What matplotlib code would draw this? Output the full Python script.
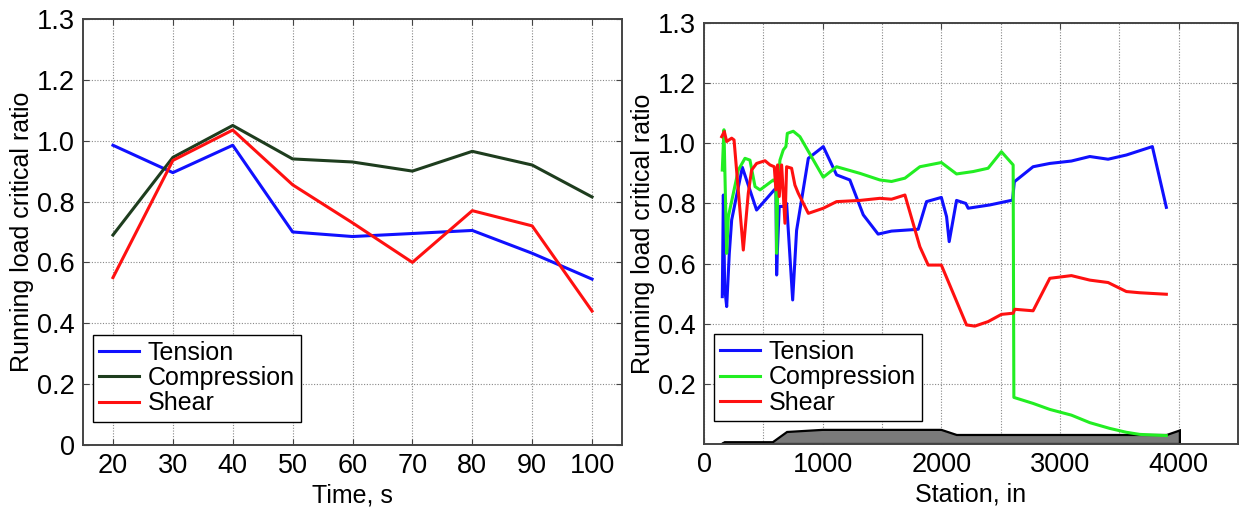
import numpy as np
import matplotlib.pyplot as plt
from matplotlib.ticker import MultipleLocator

plt.rcParams['font.family'] = ['Liberation Sans Narrow', 'Liberation Sans', 'DejaVu Sans']

# left panel: ratio vs time
time_s = [20, 30, 40, 50, 60, 70, 80, 90, 100]
tension_t = [0.985, 0.895, 0.985, 0.70, 0.685, 0.695, 0.705, 0.63, 0.545]
compression_t = [0.69, 0.945, 1.05, 0.94, 0.93, 0.90, 0.965, 0.92, 0.815]
shear_t = [0.55, 0.935, 1.035, 0.855, 0.73, 0.60, 0.77, 0.72, 0.44]

# right panel: ratio vs station
tension_stn = [154, 163, 174, 191, 213, 233, 323, 443, 592, 606, 612, 618, 634, 668, 696,
               747, 780, 879, 1005, 1117, 1229, 1342, 1467, 1580, 1805, 1875, 2000, 2044,
               2066, 2128, 2206, 2226, 2409, 2600, 2615, 2773, 2914, 3096, 3251, 3405,
               3559, 3778, 3896]
tension_s = [0.49, 0.828, 0.52, 0.457, 0.634, 0.745, 0.92, 0.778, 0.845, 0.85, 0.562, 0.64,
             0.79, 0.79, 0.80, 0.479, 0.71, 0.95, 0.989, 0.895, 0.878, 0.762, 0.698, 0.708,
             0.714, 0.806, 0.82, 0.756, 0.673, 0.81, 0.80, 0.784, 0.795, 0.811, 0.872,
             0.922, 0.933, 0.941, 0.956, 0.947, 0.961, 0.989, 0.787]

compression_stn = [154, 163, 168, 191, 205, 289, 345, 387, 430, 472, 584, 606, 612, 621,
                   640, 668, 690, 702, 752, 808, 1005, 1117, 1314, 1482, 1580, 1693, 1819,
                   2000, 2128, 2268, 2394, 2506, 2605, 2611, 2773, 2914, 3096, 3251, 3418,
                   3559, 3671, 3896]
compression_s = [0.911, 1.0, 1.045, 0.634, 0.756, 0.911, 0.95, 0.944, 0.856, 0.845, 0.878,
                 0.87, 0.634, 0.856, 0.944, 0.978, 0.989, 1.033, 1.04, 1.022, 0.887, 0.922,
                 0.90, 0.878, 0.873, 0.884, 0.922, 0.936, 0.898, 0.906, 0.917, 0.972, 0.928,
                 0.155, 0.135, 0.115, 0.096, 0.071, 0.052, 0.039, 0.032, 0.028]

shear_stn = [149, 171, 191, 233, 253, 331, 373, 401, 443, 514, 556, 592, 606, 620, 634, 654,
             682, 696, 738, 766, 794, 879, 1005, 1117, 1314, 1482, 1580, 1693, 1819, 1889,
             2000, 2212, 2282, 2394, 2506, 2605, 2619, 2773, 2914, 3096, 3251, 3405, 3559,
             3671, 3896]
shear_s = [1.022, 1.039, 1.006, 1.017, 1.011, 0.645, 0.834, 0.911, 0.933, 0.942, 0.928,
           0.922, 0.845, 0.928, 0.823, 0.928, 0.734, 0.922, 0.917, 0.861, 0.834, 0.767,
           0.784, 0.806, 0.81, 0.817, 0.814, 0.828, 0.656, 0.595, 0.595, 0.396, 0.392,
           0.407, 0.431, 0.435, 0.448, 0.443, 0.551, 0.56, 0.545, 0.537, 0.507, 0.503, 0.498]

# outline at the bottom of the station plot
outline_stn = [150, 175, 580, 700, 1000, 2000, 2130, 3900, 4010, 4010]
outline_h = [0.0, 0.006, 0.006, 0.04, 0.047, 0.047, 0.03, 0.03, 0.045, 0.0]

ytick_vals = [0, 0.2, 0.4, 0.6, 0.8, 1.0, 1.2, 1.4]
ytick_labels = ['0', '0.2', '0.4', '0.6', '0.8', '1.0', '1.2', '1.3']

fs = 18
tfs = 19.5
fig = plt.figure(figsize=(12.41, 5.11), dpi=100)
ax1 = fig.add_axes([0.0669, 0.1292, 0.4343, 0.8337])
ax2 = fig.add_axes([0.5673, 0.1311, 0.4303, 0.8239])


def style(ax):
    ax.grid(True, which='both', linestyle=(0, (1, 1.5)), color='#888888', linewidth=0.8)
    ax.tick_params(which='both', direction='in', top=True, right=True, length=4,
                   labelsize=tfs, color='#444444', pad=6)
    ax.tick_params(which='minor', length=0)
    for sp in ax.spines.values():
        sp.set_color('#444444')
        sp.set_linewidth(1.4)
    ax.set_ylim(0, 1.4)
    ax.set_ylabel('Running load critical ratio', fontsize=fs, labelpad=2)


lw = 2.2
ax1.plot(time_s, tension_t, color='#1010ff', lw=lw, label='Tension')
ax1.plot(time_s, compression_t, color='#1e3d1e', lw=lw, label='Compression')
ax1.plot(time_s, shear_t, color='#ff1010', lw=lw, label='Shear')
style(ax1)
ax1.set_xlim(15, 105)
ax1.set_xticks(time_s)
ax1.set_yticks(ytick_vals, ytick_labels)
ax1.set_xlabel('Time, s', fontsize=fs, labelpad=3)

ax2.fill(outline_stn, outline_h, facecolor='#7a7a7a', edgecolor='black', lw=1.6, zorder=2)
ax2.plot(tension_stn, tension_s, color='#1010ff', lw=lw, label='Tension', zorder=3)
ax2.plot(compression_stn, compression_s, color='#22ee22', lw=lw, label='Compression', zorder=3)
ax2.plot(shear_stn, shear_s, color='#ff1010', lw=lw, label='Shear', zorder=3)
style(ax2)
ax2.set_xlim(0, 4500)
ax2.set_xticks([0, 1000, 2000, 3000, 4000])
ax2.xaxis.set_minor_locator(MultipleLocator(500))
ax2.set_yticks(ytick_vals[1:], ytick_labels[1:])
ax2.set_xlabel('Station, in', fontsize=fs, labelpad=3)

for ax in (ax1, ax2):
    leg = ax.legend(loc='lower left', bbox_to_anchor=(0.018, 0.055), fontsize=fs,
                    fancybox=False, framealpha=1, edgecolor='black', handlelength=1.6,
                    labelspacing=0.05, borderpad=0.25, handletextpad=0.35, borderaxespad=0)
    leg.get_frame().set_linewidth(1.0)

fig.savefig('out.png', dpi=100)
